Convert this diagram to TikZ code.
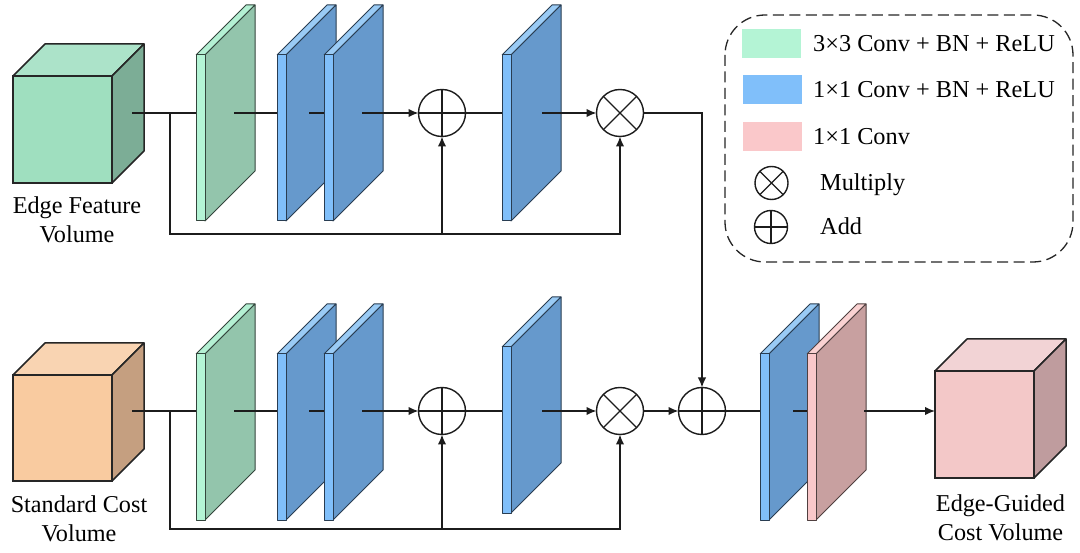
\documentclass[tikz,border=0pt]{standalone}
\usepackage{fontspec}
\setmainfont{Liberation Serif}
\usetikzlibrary{arrows.meta}
\definecolor{gfront}{HTML}{9FDFBF}\definecolor{gtop}{HTML}{ACE3C9}\definecolor{gside}{HTML}{7CAD96}
\definecolor{ofront}{HTML}{F9CBA0}\definecolor{otop}{HTML}{F9D4B2}\definecolor{oside}{HTML}{C59F80}
\definecolor{pfront}{HTML}{F3C8C8}\definecolor{ptop}{HTML}{F2D3D5}\definecolor{pside}{HTML}{BF9C9E}
\definecolor{pgS}{HTML}{B4F4D5}\definecolor{pgF}{HTML}{93C5AC}\definecolor{pgT}{HTML}{B4F0D3}
\definecolor{pbS}{HTML}{80BFFA}\definecolor{pbF}{HTML}{6699CC}\definecolor{pbT}{HTML}{9ACBF5}
\definecolor{ppS}{HTML}{FAC8CA}\definecolor{ppF}{HTML}{C8A0A0}\definecolor{ppT}{HTML}{FAD2D2}
\definecolor{linec}{HTML}{1C1C1C}
\tikzset{
  x=1pt,y=-1pt,
  facei/.style={draw=#1,line width=1pt,line join=round},
  cubeface/.style={draw=black!85,line width=1.5pt,line join=round},
  conn/.style={draw=linec,line width=1.4pt},
  arr/.style={conn,-{Latex[length=10pt,width=8.5pt]}},
  opnode/.style={circle,draw=linec,line width=1.4pt,minimum size=#1,inner sep=0pt,outer sep=0pt},
  addop/.style={opnode=#1,path picture={
    \draw[linec,line width=1.4pt] (path picture bounding box.north)--(path picture bounding box.south)
      (path picture bounding box.west)--(path picture bounding box.east);}},
  mulop/.style={opnode=#1,path picture={
    \draw[linec,line width=1.4pt] (path picture bounding box.center)+(45:#1/2)--+(225:#1/2)
      (path picture bounding box.center)+(135:#1/2)--+(315:#1/2);}},
  lbl/.style={font=\fontsize{24.2}{29.5}\selectfont,align=center,inner sep=0pt},
  legt/.style={font=\fontsize{24.3}{28}\selectfont,anchor=base west,inner sep=0pt},
  swatch/.style={fill=#1,minimum width=59pt,minimum height=29pt,inner sep=0pt,draw=none},
}
% panel: name, x left, y front top, line y, side col, front col, top col, outline
\newcommand{\panelbox}[8]{%
  \fill[#7] (#2,#3) -- (#2+50,#3-50) -- (#2+59,#3-50) -- (#2+9,#3) -- cycle;
  \draw[facei=#8] (#2,#3) -- (#2+50,#3-50) -- (#2+59,#3-50) -- (#2+9,#3);
  \filldraw[facei=#8,fill=#6] (#2+9,#3) -- (#2+59,#3-50) -- (#2+59,#3+116) -- (#2+9,#3+166) -- cycle;
  \filldraw[facei=#8,fill=#5] (#2,#3) rectangle (#2+9,#3+166);
  \coordinate (#1-in) at (#2,#4);
  \coordinate (#1-out) at (#2+38,#4);
}
% cube: name, x left, y top, height, front, top, side
\newcommand{\cubebox}[7]{%
  \filldraw[cubeface,fill=#6] (#2,#3) -- (#2+32,#3-32) -- (#2+131,#3-32) -- (#2+99,#3) -- cycle;
  \filldraw[cubeface,fill=#7] (#2+99,#3) -- (#2+131,#3-32) -- (#2+131,#3+#4-32) -- (#2+99,#3+#4) -- cycle;
  \node[draw=black!85,line width=1.5pt,fill=#5,minimum width=99pt,minimum height=#4 pt,anchor=north west,inner sep=0pt,outer sep=0pt] (#1) at (#2,#3) {};
}
\begin{document}
\begin{tikzpicture}
\useasboundingbox (0,0) rectangle (1080,553);
\fill[white] (0,0) rectangle (1080,553);

% cubes
\cubebox{edgecube}{13}{76}{107}{gfront}{gtop}{gside}
\cubebox{costcube}{13}{375}{106}{ofront}{otop}{oside}
\cubebox{outcube}{935}{371}{107}{pfront}{ptop}{pside}
\coordinate (edge-out) at (132,113);
\coordinate (cost-out) at (132,411);
\coordinate (edge-branch) at (170,113);
\coordinate (cost-branch) at (170,411);

% top row panels
\panelbox{tg}{196}{55}{113}{pgS}{pgF}{pgT}{black!65!pgF}
\panelbox{tb1}{277}{55}{113}{pbS}{pbF}{pbT}{black!60!pbF}
\panelbox{tb2}{324}{55}{113}{pbS}{pbF}{pbT}{black!60!pbF}
\panelbox{tb3}{502}{55}{113}{pbS}{pbF}{pbT}{black!60!pbF}
% bottom row panels
\panelbox{bg}{196}{354}{411}{pgS}{pgF}{pgT}{black!65!pgF}
\panelbox{bb1}{277}{354}{411}{pbS}{pbF}{pbT}{black!60!pbF}
\panelbox{bb2}{324}{354}{411}{pbS}{pbF}{pbT}{black!60!pbF}
\panelbox{bb3}{502}{347}{411}{pbS}{pbF}{pbT}{black!60!pbF}
% output panels
\panelbox{ob}{760}{354}{411}{pbS}{pbF}{pbT}{black!60!pbF}
\panelbox{op}{807}{354}{411}{ppS}{ppF}{ppT}{black!60!ppF}
\coordinate (tb1-out) at (309,113);
\coordinate (bb1-out) at (309,411);
\coordinate (tb3-out) at (542,113);
\coordinate (bb3-out) at (542,411);
\coordinate (ob-out) at (793,411);
\coordinate (op-exit) at (864,411);

% operators
\node[addop=47pt] (tadd) at (442,113) {};
\node[mulop=47pt] (tmul) at (620,113) {};
\node[addop=47pt] (badd) at (442,411) {};
\node[mulop=47pt] (bmul) at (620,411) {};
\node[addop=47pt] (oadd) at (702,411) {};

% top connectors
\draw[conn] (edge-out) -- (tg-in);
\draw[conn] (tg-out) -- (tb1-in);
\draw[conn] (tb1-out) -- (tb2-in);
\draw[arr] (tb2-out) -- (tadd.west);
\draw[conn] (tadd.east) -- (tb3-in);
\draw[arr] (tb3-out) -- (tmul.west);
\draw[arr] (edge-branch) |- (170,234) -| (tmul.south);
\draw[arr] (tadd.south |- 0,234) -- (tadd.south);
\draw[arr] (tmul.east) -| (oadd.north);
% bottom connectors
\draw[conn] (cost-out) -- (bg-in);
\draw[conn] (bg-out) -- (bb1-in);
\draw[conn] (bb1-out) -- (bb2-in);
\draw[arr] (bb2-out) -- (badd.west);
\draw[conn] (badd.east) -- (bb3-in);
\draw[arr] (bb3-out) -- (bmul.west);
\draw[arr] (cost-branch) |- (170,529) -| (bmul.south);
\draw[arr] (badd.south |- 0,529) -- (badd.south);
\draw[arr] (bmul.east) -- (oadd.west);
\draw[conn] (oadd.east) -- (ob-in);
\draw[conn] (ob-out) -- (op-in);
\draw[arr] (op-exit) -- (outcube.west |- op-exit);

% labels
\node[lbl] (edgelabel) at (77,220) {Edge Feature\\Volume};
\node[lbl] (costlabel) at (79,519) {Standard Cost\\Volume};
\node[lbl] (outlabel) at (1000.5,518) {Edge-Guided\\Cost Volume};

% legend
\draw[black!85,line width=1.3pt,dash pattern=on 11pt off 5.5pt,rounded corners=40pt] (725,15) rectangle (1073,262);
\node[swatch=pgS] (sw1) at (771.5,43.5) {};
\node[swatch=pbS] (sw2) at (772,90) {};
\node[swatch=ppS] (sw3) at (772,137) {};
\node[legt] (lt1) at (813,51.5) {3×3 Conv + BN + ReLU};
\node[legt] (lt2) at (813,97.5) {1×1 Conv + BN + ReLU};
\node[legt] (lt3) at (813,144.5) {1×1 Conv};
\node[mulop=33pt] (lmul) at (771.5,183) {};
\node[addop=33pt] (ladd) at (771,227) {};
\node[legt] (lt4) at (820,191) {Multiply};
\node[legt] (lt5) at (820,234.5) {Add};
\end{tikzpicture}
\end{document}
